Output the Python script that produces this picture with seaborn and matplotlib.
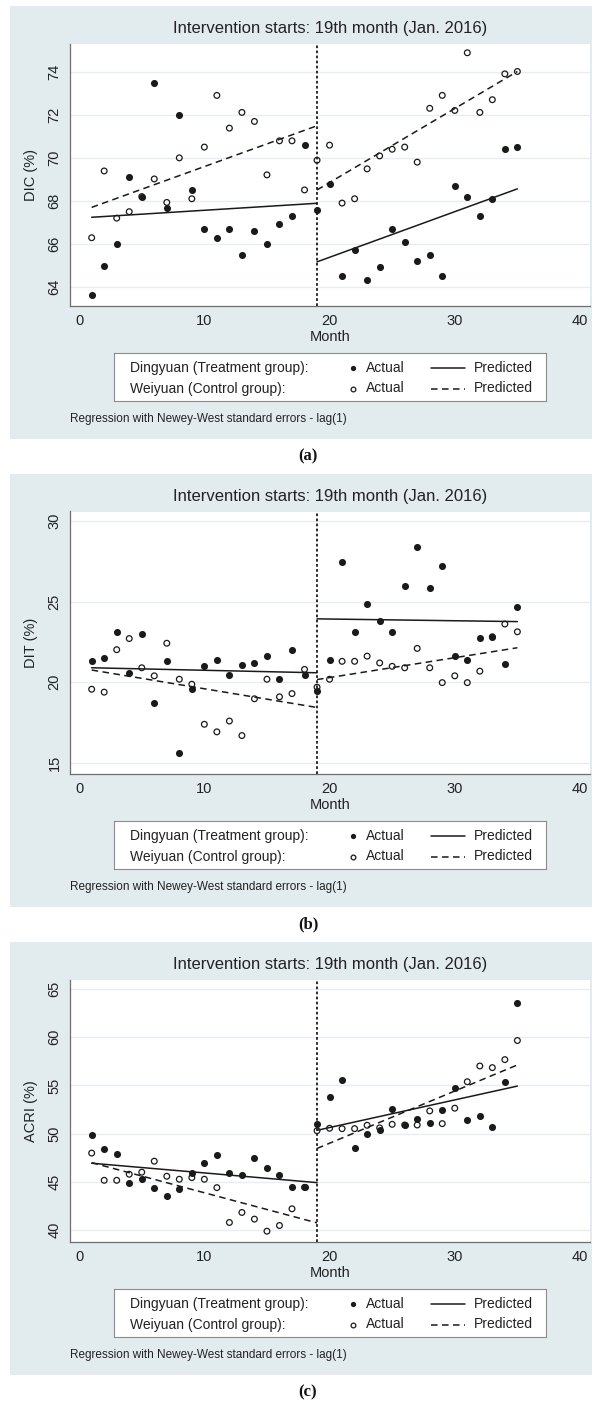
import matplotlib
matplotlib.use("Agg")
import matplotlib.pyplot as plt
from matplotlib.patches import Rectangle
import pandas as pd
import seaborn as sns

# months of the interrupted time series
months = list(range(1, 36))
pred_months = [1, 19, 19, 35]
pred_segment = [0, 0, 1, 1]

# (a) DIC (%)
dic_ding = [63.63, 65.01, 66.02, 69.11, 68.21, 73.50, 67.70, 71.98, 68.52, 66.72,
            66.30, 66.72, 65.52, 66.62, 66.02, 66.92, 67.32, 70.60, 67.59, 68.80,
            64.50, 65.71, 64.33, 64.92, 66.72, 66.11, 65.21, 65.52, 64.50, 68.70,
            68.21, 67.32, 68.11, 70.41, 70.51]
dic_wei = [66.30, 69.40, 67.21, 67.51, 68.21, 69.03, 67.94, 70.01, 68.11, 70.51,
           72.91, 71.39, 72.12, 71.70, 69.22, 70.80, 70.80, 68.52, 69.90, 70.60,
           67.91, 68.11, 69.50, 70.10, 70.41, 70.51, 69.81, 72.31, 72.91, 72.21,
           74.89, 72.12, 72.71, 73.91, 74.02]
dic_ding_pred = [67.25, 67.90, 65.18, 68.57]
dic_wei_pred = [67.71, 71.50, 68.52, 74.02]

# (b) DIT (%)
dit_ding = [21.30, 21.53, 23.13, 20.57, 23.00, 18.69, 21.30, 15.61, 19.57, 20.99,
            21.41, 20.48, 21.09, 21.20, 21.60, 20.19, 22.02, 20.48, 19.45, 21.41,
            27.48, 23.13, 24.87, 23.82, 23.13, 25.99, 28.38, 25.86, 27.18, 21.62,
            21.41, 22.73, 22.82, 21.11, 24.66]
dit_wei = [19.57, 19.39, 22.02, 22.71, 20.90, 20.40, 22.42, 20.19, 19.88, 17.40,
           16.93, 17.60, 16.70, 18.98, 20.19, 19.10, 19.30, 20.80, 19.70, 20.19,
           21.30, 21.30, 21.62, 21.20, 20.99, 20.90, 22.10, 20.90, 19.98, 20.40,
           19.98, 20.69, 22.82, 23.61, 23.13]
dit_ding_pred = [20.90, 20.59, 23.93, 23.76]
dit_wei_pred = [20.76, 18.44, 20.17, 22.14]

# (c) ACRI (%)
acri_ding = [49.83, 48.44, 47.92, 44.93, 45.28, 44.34, 43.51, 44.24, 45.90, 46.94,
             47.74, 45.97, 45.73, 47.43, 46.46, 45.73, 44.44, 44.44, 51.01, 53.78,
             55.52, 48.47, 49.97, 50.42, 52.57, 50.87, 51.56, 51.11, 52.43, 54.76,
             51.39, 51.84, 50.73, 55.35, 63.54]
acri_wei = [47.99, 45.17, 45.17, 45.80, 46.01, 47.15, 45.59, 45.28, 45.45, 45.28,
            44.41, 40.80, 41.84, 41.15, 39.90, 40.49, 42.22, 44.44, 50.31, 50.56,
            50.52, 50.52, 50.87, 50.60, 50.97, 50.90, 50.90, 52.36, 51.04, 52.64,
            55.38, 57.01, 56.84, 57.67, 59.65]
acri_ding_pred = [46.94, 44.93, 50.35, 54.93]
acri_wei_pred = [47.00, 40.76, 48.47, 57.12]

title_text = "Intervention starts: 19th month (Jan. 2016)"
note_text = "Regression with Newey-West standard errors - lag(1)"
xticks = [0, 10, 20, 30, 40]

W, H = 595, 1408
BG = "#e2ecee"
INK = "#1a1a1a"
GRID = "#e8eef0"
AXIS = "#6e6e6e"
DASH = (0, (4.3, 2.9))


def fx(px):
    return px / W


def fy(py):
    return 1 - py / H


def draw_panel(fig, top, ylabel, yticks, ylim, ding, wei, ding_pred, wei_pred, tag):
    fig.patches.append(Rectangle((fx(10), fy(top + 433)), 582 / W, 433 / H,
                                 transform=fig.transFigure, facecolor=BG,
                                 edgecolor="none", zorder=-10))
    ax = fig.add_axes([fx(70), fy(top + 300), 520 / W, 262.5 / H])
    ax.set_zorder(2)
    ax.set_facecolor("white")
    for yt in yticks:
        ax.axhline(yt, color=GRID, lw=1.0, zorder=0)
    ax.axvline(19, color=INK, lw=1.3, linestyle=(0, (1.5, 1.3)), zorder=2)

    actual = pd.DataFrame({"month": months, "ding": ding, "wei": wei})
    sns.scatterplot(data=actual, x="month", y="wei", ax=ax, s=17, fc="none",
                    ec=INK, linewidth=0.9, zorder=3)
    sns.scatterplot(data=actual, x="month", y="ding", ax=ax, s=26, color=INK,
                    linewidth=0, zorder=4)

    pd_ding = pd.DataFrame({"month": pred_months, "value": ding_pred, "seg": pred_segment})
    pd_wei = pd.DataFrame({"month": pred_months, "value": wei_pred, "seg": pred_segment})
    sns.lineplot(data=pd_ding, x="month", y="value", units="seg", estimator=None,
                 ax=ax, color=INK, lw=1.1, zorder=5)
    sns.lineplot(data=pd_wei, x="month", y="value", units="seg", estimator=None,
                 ax=ax, color=INK, lw=1.1, linestyle=DASH, zorder=5)

    ax.set_xlim(-0.73, 40.8)
    ax.set_ylim(*ylim)
    ax.set_xticks(xticks)
    ax.set_yticks(yticks)
    for side in ["top", "right"]:
        ax.spines[side].set_visible(False)
    for side in ["left", "bottom"]:
        ax.spines[side].set_color(AXIS)
        ax.spines[side].set_linewidth(0.9)
    ax.tick_params(direction="out", length=3.6, width=0.9, color=AXIS,
                   labelsize=10.5, pad=2.5, labelcolor="#222")
    for lab in ax.get_yticklabels():
        lab.set_rotation(90)
        lab.set_va("center")
    ax.set_xlabel("Month", fontsize=10.5, color="#222")
    ax.xaxis.set_label_coords(0.5, -0.092)
    ax.set_ylabel(ylabel, fontsize=10.5, color="#222")
    ax.yaxis.set_label_coords(-0.062, 0.5)

    fig.text(fx(330), fy(top + 23), title_text, ha="center", va="center",
             fontsize=12, color="#222")

    # legend box
    lax = fig.add_axes([fx(114), fy(top + 395), 432 / W, 48 / H])
    lax.set_zorder(2)
    lax.set_xlim(0, 432)
    lax.set_ylim(48, 0)
    lax.set_xticks([])
    lax.set_yticks([])
    lax.set_facecolor("white")
    for sp in lax.spines.values():
        sp.set_color("#8c8c8c")
        sp.set_linewidth(0.8)
    rows = [("Dingyuan (Treatment group):", True, "-"),
            ("Weiyuan (Control group):", False, DASH)]
    for i, (name, filled, ls) in enumerate(rows):
        yy = 15 + 20.5 * i
        lax.text(16, yy, name, va="center", fontsize=10, color="#222")
        if filled:
            lax.plot([239], [yy], "o", ms=3.8, color=INK, mew=0)
        else:
            lax.plot([239], [yy], "o", ms=3.4, mfc="none", mec=INK, mew=0.9)
        lax.text(252, yy, "Actual", va="center", fontsize=10, color="#222")
        lax.plot([317, 351], [yy, yy], color=INK, lw=1.1, linestyle=ls)
        lax.text(359.5, yy, "Predicted", va="center", fontsize=10, color="#222")

    fig.text(fx(70), fy(top + 413), note_text, ha="left", va="center",
             fontsize=8.5, color="#222")
    fig.text(fx(308), fy(top + 450), tag, ha="center", va="center",
             fontsize=12, fontweight="bold", family=["Liberation Serif", "DejaVu Serif"],
             color="#111")
    return ax


def main():
    sns.set_theme(style="white")
    plt.rcParams["font.family"] = ["Liberation Sans", "DejaVu Sans"]
    fig = plt.figure(figsize=(W / 100, H / 100), dpi=100)
    fig.patch.set_facecolor("white")

    draw_panel(fig, 6, "DIC (%)", [64, 66, 68, 70, 72, 74], (63.13, 75.32),
               dic_ding, dic_wei, dic_ding_pred, dic_wei_pred, "(a)")
    draw_panel(fig, 474, "DIT (%)", [15, 20, 25, 30], (14.32, 30.58),
               dit_ding, dit_wei, dit_ding_pred, dit_wei_pred, "(b)")
    draw_panel(fig, 942, "ACRI (%)", [40, 45, 50, 55, 60, 65], (38.78, 65.97),
               acri_ding, acri_wei, acri_ding_pred, acri_wei_pred, "(c)")

    fig.savefig("out.png", dpi=100)


if __name__ == "__main__":
    main()
